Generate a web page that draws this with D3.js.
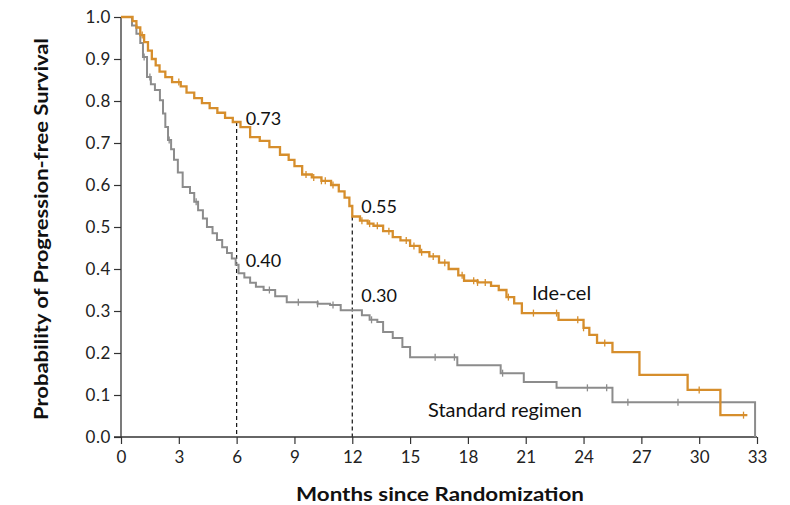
<!DOCTYPE html>
<html><head><meta charset="utf-8">
<script src="https://cdn.jsdelivr.net/npm/d3@7"></script>
<style>html,body{margin:0;padding:0;background:#fff;}svg{display:block;}</style>
</head><body>
<svg id="chart" width="790" height="505"></svg>
<script>
// ---- data ----
const ideTime = [0,0.6,0.8,1.0,1.2,1.4,1.6,1.8,2.0,2.3,2.65,3.1,3.4,3.8,4.2,4.6,5.0,5.4,5.8,6.2,6.7,7.2,7.7,8.25,8.7,9.0,9.4,9.9,10.4,10.9,11.3,11.6,11.85,12.0,12.4,12.8,13.1,13.6,14.1,14.5,15.0,15.5,16.0,16.5,17.0,17.5,17.8,18.5,19.2,19.6,20.0,20.4,20.8,22.7,24.0,24.3,24.7,25.5,26.9,29.4,31.1];
const ideSurv = [1.0,0.99,0.975,0.957,0.94,0.92,0.90,0.885,0.87,0.857,0.845,0.835,0.82,0.807,0.795,0.783,0.772,0.76,0.75,0.738,0.714,0.705,0.69,0.672,0.66,0.645,0.625,0.618,0.61,0.6,0.585,0.57,0.55,0.525,0.515,0.508,0.503,0.49,0.476,0.468,0.455,0.44,0.43,0.415,0.4,0.385,0.372,0.368,0.36,0.35,0.333,0.318,0.295,0.279,0.26,0.243,0.224,0.202,0.148,0.112,0.052];
const ideEnd = 32.5;
const ideCensor = [1.1,3.0,9.6,10.0,10.4,10.6,11.0,12.5,12.9,13.3,13.9,14.8,15.2,15.6,16.2,16.8,17.7,18.3,18.5,18.9,20.1,21.4,22.6,23.7,24.0,25.1,30.0,32.3];

const stdTime = [0,0.57,0.8,1.0,1.14,1.35,1.55,1.76,2.02,2.18,2.3,2.44,2.6,2.75,2.95,3.2,3.58,3.8,4.0,4.25,4.46,4.75,4.98,5.25,5.5,5.75,5.95,6.1,6.4,6.7,7.0,7.4,8.0,8.6,10.2,10.85,11.4,12.5,12.9,13.3,13.6,14.1,14.6,15.0,17.45,19.7,20.9,22.6,25.5,32.9];
const stdSurv = [1.0,0.98,0.96,0.938,0.905,0.857,0.84,0.826,0.802,0.77,0.738,0.707,0.685,0.66,0.63,0.595,0.581,0.56,0.54,0.52,0.50,0.485,0.469,0.452,0.438,0.425,0.41,0.39,0.38,0.367,0.358,0.35,0.335,0.321,0.317,0.314,0.302,0.29,0.279,0.274,0.25,0.236,0.214,0.19,0.171,0.152,0.131,0.117,0.083,0.0];
const stdCensor = [1.2,1.5,2.5,3.9,7.7,9.2,10.2,11.0,13.0,16.3,17.3,19.8,24.2,25.2,26.3,28.9];

const xTicks = [0,3,6,9,12,15,18,21,24,27,30,33];
const yTicks = [0,0.1,0.2,0.3,0.4,0.5,0.6,0.7,0.8,0.9,1.0];
const markTimes = [6,12];
const markLabels = {ide:["0.73","0.55"], std:["0.40","0.30"]};
const seriesNames = ["Ide-cel","Standard regimen"];

// ---- layout ----
const svg = d3.select("#chart");
const x = d3.scaleLinear().domain([0,33]).range([121,757]);
const y = d3.scaleLinear().domain([0,1]).range([437,17]);
const ideColor = "#d68e2c", stdColor = "#8c8c8c";
const font = "Lato, 'Open Sans', sans-serif";

function stepVal(times, surv, t){ let v = surv[0]; for(let i=0;i<times.length;i++){ if(times[i]<=t) v=surv[i]; } return v; }

// dashed reference lines
markTimes.forEach(t=>{
  svg.append("line").attr("x1",x(t)).attr("x2",x(t))
    .attr("y1",y(stepVal(ideTime,ideSurv,t))).attr("y2",y(0))
    .attr("stroke","#111").attr("stroke-width",1.2).attr("stroke-dasharray","4,3");
});

// axes
const yAxis = d3.axisLeft(y).tickValues(yTicks).tickFormat(d3.format(".1f")).tickSize(7).tickPadding(3);
const xAxis = d3.axisBottom(x).tickValues(xTicks).tickFormat(d3.format("d")).tickSize(7).tickPadding(7);
const gy = svg.append("g").attr("transform","translate(121,0)").call(yAxis);
const gx = svg.append("g").attr("transform","translate(0,437)").call(xAxis);
[gx,gy].forEach(g=>{
  g.select(".domain").attr("stroke","#333").attr("stroke-width",1.3);
  g.selectAll(".tick line").attr("stroke","#333").attr("stroke-width",1.2);
  g.selectAll(".tick text").attr("fill","#222").style("font-family",font).style("font-size","17px");
});
gy.selectAll(".tick text").style("letter-spacing","0.6px");
gy.select(".domain").attr("d","M0,17V437");
gx.select(".domain").attr("d","M114,0H757");

// curves
function curveData(times, surv, end){ const d = times.map((t,i)=>[t,surv[i]]); if(end!=null) d.push([end, surv[surv.length-1]]); return d; }
const line = d3.line().x(d=>x(d[0])).y(d=>y(d[1])).curve(d3.curveStepAfter);
svg.append("path").datum(curveData(stdTime,stdSurv,null)).attr("d",line)
  .attr("fill","none").attr("stroke",stdColor).attr("stroke-width",2);
svg.append("path").datum(curveData(ideTime,ideSurv,ideEnd)).attr("d",line)
  .attr("fill","none").attr("stroke",ideColor).attr("stroke-width",2.3);

// censor marks
function censor(times, surv, list, color){
  svg.append("g").selectAll("line").data(list).join("line")
    .attr("x1",d=>x(d)).attr("x2",d=>x(d))
    .attr("y1",d=>y(stepVal(times,surv,d))-3.5).attr("y2",d=>y(stepVal(times,surv,d))+3.5)
    .attr("stroke",color).attr("stroke-width",1.3);
}
censor(stdTime,stdSurv,stdCensor,stdColor);
censor(ideTime,ideSurv,ideCensor,ideColor);

// value labels
const lab = (txt,px,py,size)=>svg.append("text").attr("x",px).attr("y",py)
  .attr("fill","#111").style("font-family",font).style("font-size",size+"px").text(txt);
lab(markLabels.ide[0], x(6)+9, 125, 18);
lab(markLabels.ide[1], x(12)+9, 213, 18);
lab(markLabels.std[0], x(6)+9, 267, 18);
lab(markLabels.std[1], x(12)+9, 302, 18);
lab(seriesNames[0], 532, 300, 20);
lab(seriesNames[1], 428, 417, 20);

// axis titles
svg.append("text").attr("x",(296+584)/2).attr("y",501).attr("text-anchor","middle")
  .attr("fill","#111").style("font-family",font).style("font-weight","bold").style("font-size","19px")
  .attr("textLength",288).attr("lengthAdjust","spacingAndGlyphs").text("Months since Randomization");
svg.append("text").attr("transform","translate(48,229) rotate(-90)").attr("text-anchor","middle")
  .attr("fill","#111").style("font-family",font).style("font-weight","bold").style("font-size","19px")
  .attr("textLength",382).attr("lengthAdjust","spacingAndGlyphs").text("Probability of Progression-free Survival");
</script>
</body></html>
